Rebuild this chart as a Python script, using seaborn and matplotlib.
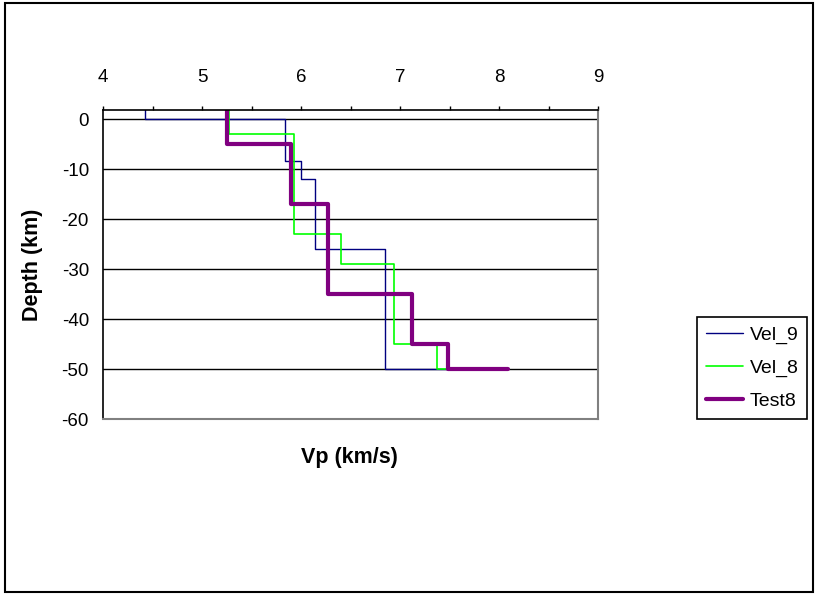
import pandas as pd
import seaborn as sns
import matplotlib.pyplot as plt
from matplotlib.patches import Rectangle
from matplotlib.ticker import MultipleLocator

# layer tops (km) and P velocities (km/s); last entry is the half-space at the Moho
models = ['Vel_9', 'Vel_8', 'Test8']
vel9_top = [3, 0, -8.3, -12, -26, -50]
vel9_vp = [4.42, 5.84, 6.00, 6.14, 6.85, 8.00]
vel8_top = [3, -3, -23, -29, -45, -50]
vel8_vp = [5.27, 5.93, 6.40, 6.94, 7.37, 7.90]
test8_top = [3, -5, -17, -35, -45, -50]
test8_vp = [5.25, 5.90, 6.27, 7.12, 7.48, 8.09]

colors = ['#000080', '#00ff00', '#800080']
widths = [1.0, 1.2, 3.0]


def step_profile(name, tops, vps):
    rows = []
    for i in range(len(tops) - 1):
        rows.append((name, vps[i], tops[i]))
        rows.append((name, vps[i], tops[i + 1]))
    rows.append((name, vps[-1], tops[-1]))
    return pd.DataFrame(rows, columns=['model', 'vp', 'depth'])


data = pd.concat([
    step_profile('Vel_9', vel9_top, vel9_vp),
    step_profile('Vel_8', vel8_top, vel8_vp),
    step_profile('Test8', test8_top, test8_vp),
])

sns.set_style('white')
plt.rcParams['font.family'] = ['Liberation Sans', 'DejaVu Sans']
plt.rcParams['axes.unicode_minus'] = False
plt.rcParams['text.color'] = 'black'
plt.rcParams['axes.labelcolor'] = 'black'
plt.rcParams['xtick.color'] = 'black'
plt.rcParams['ytick.color'] = 'black'

fig = plt.figure(figsize=(8.18, 5.95), dpi=100)
ax = fig.add_axes([103.3 / 818, 1 - 419.3 / 595, (598.3 - 103.3) / 818, (419.3 - 109.7) / 595])

for m, c, w in zip(models, colors, widths):
    sns.lineplot(data=data[data.model == m], x='vp', y='depth', sort=False,
                 estimator=None, color=c, linewidth=w, label=m, ax=ax)

ax.set_xlim(4, 9)
ax.set_ylim(-60, 1.9)
ax.xaxis.tick_top()
ax.xaxis.set_major_locator(MultipleLocator(1))
ax.xaxis.set_minor_locator(MultipleLocator(0.5))
ax.yaxis.set_major_locator(MultipleLocator(10))
ax.yaxis.set_minor_locator(MultipleLocator(5))
ax.tick_params(which='both', direction='out', width=1, labelsize=13.5,
               bottom=False, right=False)
ax.tick_params(axis='x', which='both', length=3, pad=14)
ax.tick_params(axis='y', which='both', length=4.3, pad=6)
for y in range(-50, 1, 10):
    ax.axhline(y, color='black', linewidth=1, zorder=0)

for side in ['top', 'left']:
    ax.spines[side].set_color('black')
    ax.spines[side].set_linewidth(1.2)
for side in ['right', 'bottom']:
    ax.spines[side].set_color('#808080')
    ax.spines[side].set_linewidth(1.5)

ax.set_xlabel('Vp (km/s)', fontsize=15.5, fontweight='bold', va='top')
ax.xaxis.set_label_position('bottom')
ax.xaxis.set_label_coords(0.497, -0.088)
ax.set_ylabel('Depth (km)', fontsize=15.5, fontweight='bold')
ax.yaxis.set_label_coords(-0.122, 0.5)

ax.legend(loc='upper left', bbox_to_anchor=(697 / 818, 1 - 317 / 595),
          bbox_transform=fig.transFigure, fontsize=14, frameon=True, fancybox=False,
          edgecolor='black', framealpha=1, handlelength=1.9, handletextpad=0.35,
          labelspacing=0.8, borderaxespad=0, borderpad=0.45)
ax.get_legend().get_frame().set_linewidth(1.2)

fig.patches.append(Rectangle((5 / 818, 1 - 592 / 595), 808 / 818, 589 / 595,
                             transform=fig.transFigure, fill=False,
                             edgecolor='black', linewidth=1.5))

fig.savefig('out.png', dpi=100)
